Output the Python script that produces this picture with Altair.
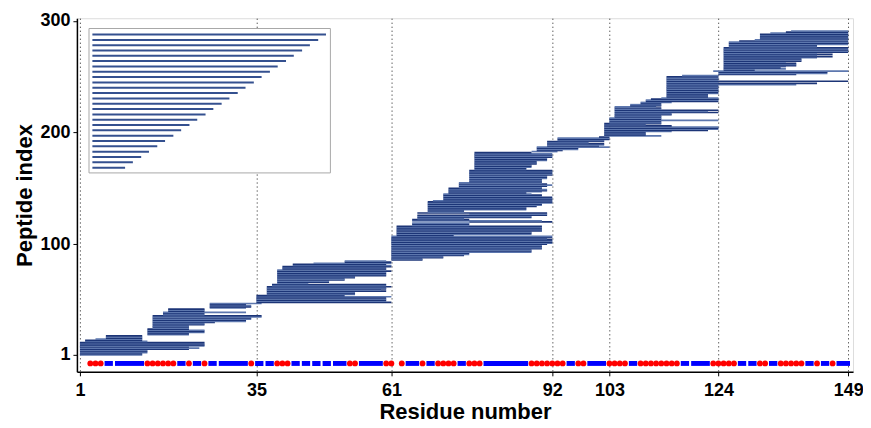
import altair as alt
import pandas as pd

# ---------------- data ----------------
pep_start = (
    [1] * 12 + [2, 2, 4, 6, 6, 6] + [14, 14, 14, 14, 14, 14, 15] + [15] * 11
    + [17, 17, 17, 18, 18, 18] + [26] * 5 + [35] * 7 + [37] * 8 + [38, 38]
    + [39] * 13 + [40, 40, 40, 42, 42, 46, 52, 52] + [61] * 22 + [62] * 9
    + [65, 65, 65, 76, 65, 65] + [66, 66, 66, 66, 76, 66] + [68] * 10 + [69]
    + [71] * 6 + [72] * 5 + [74] * 5 + [76] * 11 + [77] * 16
    + [88, 89, 89, 89, 89, 91, 91, 91, 91, 91, 93, 93, 93, 101]
    + [102] * 12 + [103] * 5 + [104] * 10 + [107, 107, 109, 109, 110, 110, 111, 113]
    + [114] * 19 + [117] + [124, 124, 124, 123] + [125] * 21 + [126] * 5
    + [128, 131, 132, 132, 132, 132, 132, 134, 137, 138]
)
pep_end = (
    [13, 13, 14, 14, 14, 22, 24, 22, 25, 25, 25, 25]
    + [14, 13, 13, 13, 13, 13]
    + [22, 22, 25, 25, 25, 22, 22]
    + [22, 22, 25, 25, 27, 33, 33, 34, 34, 36, 36]
    + [25, 25, 33, 25, 25, 25]
    + [33, 34, 34, 33, 36]
    + [61, 60, 60, 60, 60, 61, 52]
    + [54, 54, 54, 60, 59, 60, 60, 61]
    + [60, 60]
    + [45, 49, 49, 52, 52, 54, 54, 60, 60, 60, 60, 61, 60]
    + [60, 60, 61, 61, 60, 61, 61, 60]
    + [67, 67, 71, 71, 75, 76, 76, 88, 88, 88, 90, 90, 90, 90, 91, 92, 92, 92, 92, 91, 92, 92]
    + [73, 88, 88, 88, 90, 90, 90, 90, 90]
    + [76, 76, 76, 92, 90, 76]
    + [75, 88, 88, 91, 91, 91]
    + [75, 75, 87, 87, 87, 89, 90, 90, 92, 92, 92]
    + [92, 92, 92, 90, 90, 88]
    + [87, 90, 91, 91, 90]
    + [90, 91, 92, 91, 90]
    + [90, 90, 90, 91, 91, 91, 92, 92, 92, 92, 92]
    + [87, 87, 88, 88, 88, 89, 89, 89, 91, 91, 91, 92, 92, 92, 92, 88]
    + [93, 94, 97, 97, 103, 101, 102, 102, 99, 102, 102, 103, 103, 103]
    + [113, 110, 110, 110, 115, 122, 124, 124, 124, 115, 110, 113]
    + [113, 113, 124, 113, 113]
    + [113, 113, 115, 115, 124, 122, 124, 113, 113, 112]
    + [113, 113, 113, 115, 124, 124, 124, 124]
    + [122, 122, 122, 124, 124, 124, 124, 124, 124, 124, 124, 139, 143, 124, 149, 124, 124, 124, 124]
    + [124]
    + [139, 145, 145, 149]
    + [131, 137, 136, 137, 139, 139, 139, 137, 140, 140, 140, 143, 146, 143, 146, 143, 149, 149, 149, 149, 149]
    + [143, 143, 149, 149, 149]
    + [149] * 10
)

red_residues = [3, 4, 5, 14, 15, 16, 17, 18, 19, 22, 25, 34, 39, 40, 41, 53, 54, 60, 61, 63,
                67, 70, 71, 72, 73, 76, 77, 78, 88, 89, 90, 91, 92, 93, 94, 97, 98,
                103, 104, 105, 106, 109, 110, 111, 112, 113, 114, 115, 116,
                123, 124, 125, 126, 127, 132, 133, 136, 137, 138, 139, 140, 143, 146]
blue_run_start = [6, 8, 20, 23, 26, 28, 35, 37, 42, 44, 46, 48, 50, 55, 64, 68, 74, 79, 95,
                  99, 107, 117, 119, 128, 130, 134, 141, 144, 147]
blue_run_end = [7, 13, 21, 24, 27, 33, 36, 38, 43, 45, 47, 49, 52, 59, 66, 69, 75, 87, 96,
                102, 108, 118, 122, 129, 131, 135, 142, 145, 149]

# inset (schematic staircase)
inset_line_index = [287.8, 283.0, 278.3, 273.5, 268.7, 264.0, 259.2, 254.4, 249.7, 244.9,
                    240.1, 235.4, 230.6, 225.8, 221.1, 216.3, 211.5, 206.8, 202.0, 197.2,
                    192.5, 187.7, 182.9, 178.2, 173.4, 168.6]
inset_line_end = [48.4, 46.9, 45.3, 43.8, 42.2, 40.7, 39.1, 37.6, 36.0, 34.5, 32.9, 31.4,
                  29.8, 28.3, 26.7, 25.2, 23.6, 22.1, 20.5, 19.0, 17.4, 15.9, 14.3, 12.8,
                  11.2, 9.7]
inset_line_start = [3.4] * 26
inset_box = {"x1": [2.75], "x2": [49.25], "y1": [163.9], "y2": [293.2]}

x_ticks = [1, 35, 61, 92, 103, 124, 149]
y_ticks = [1, 100, 200, 300]

# ---------------- tables ----------------
pep = pd.DataFrame({"idx": list(range(1, len(pep_start) + 1)),
                    "start": pep_start, "end": pep_end})
red = pd.DataFrame({"res": red_residues})
blue = pd.DataFrame({"s": blue_run_start, "e": blue_run_end})
inset = pd.DataFrame({"i": inset_line_index, "s": inset_line_start, "e": inset_line_end})
box = pd.DataFrame(inset_box)

FONT = "Liberation Sans"
xscale = alt.Scale(domain=[0.42, 149.93], nice=False, zero=False)
yscale = alt.Scale(domain=[-14.2, 302.4], nice=False, zero=False)

xaxis = alt.Axis(values=x_ticks, grid=True, gridDash=[1, 3], gridColor="#000000",
                 gridOpacity=0.9, gridWidth=1, labelFont=FONT, labelFontWeight="bold",
                 labelFontSize=18, labelColor="black", tickColor="black", tickSize=4,
                 domainColor="black", domainWidth=1.5, labelPadding=6,
                 titleFont=FONT, titleFontWeight="bold", titleFontSize=22,
                 titleColor="black", titlePadding=2, labelFlush=False)
yaxis = alt.Axis(values=y_ticks, grid=False, labelFont=FONT, labelFontWeight="bold",
                 labelFontSize=18, labelColor="black", tickColor="black", tickSize=4,
                 domainColor="black", domainWidth=1.5, labelPadding=3,
                 titleFont=FONT, titleFontWeight="bold", titleFontSize=22,
                 titleColor="black", titlePadding=3)


def X(field):
    return alt.X(field, type="quantitative", scale=xscale, axis=xaxis, title="Residue number")


def Y(field):
    return alt.Y(field, type="quantitative", scale=yscale, axis=yaxis, title="Peptide index")


box_layer = alt.Chart(box).mark_rect(fill="white", stroke="#a8a8a8", strokeWidth=1).encode(
    x=X("x1"), x2="x2", y=Y("y1"), y2="y2")

inset_layer = alt.Chart(inset).mark_rule(color="#34508f", strokeWidth=2).encode(
    x=X("s"), x2="e", y=Y("i"))

pep_layer = alt.Chart(pep).transform_calculate(
    lo="datum.idx - 0.75", hi="datum.idx + 0.75",
    shade="datum.idx % 2 == 0 ? 'even' : 'odd'"
).mark_rect().encode(
    x=X("start"), x2="end", y=Y("lo"), y2="hi",
    color=alt.Color("shade:N", scale=alt.Scale(domain=["even", "odd"],
                                                range=["#1c3577", "#5d77ae"]),
                    legend=None),
)

blue_layer = alt.Chart(blue).transform_calculate(
    xs="datum.s - 0.25", xe="datum.e + 0.35", lo="-8.9", hi="-4.5"
).mark_rect(color="#0000ff").encode(
    x=X("xs"), x2="xe", y=Y("lo"), y2="hi")

red_layer = alt.Chart(red).transform_calculate(yy="-6.7").mark_circle(
    color="#ff0000", opacity=1, size=34).encode(x=X("res"), y=Y("yy"))

chart = alt.layer(box_layer, inset_layer, pep_layer, blue_layer, red_layer).properties(
    width=777, height=354,
    padding={"left": 69, "top": 10, "right": 10, "bottom": 52},
    autosize=alt.AutoSizeParams(type="none"),
).configure_view(stroke=None).configure(background="white")

chart.save("out.html", embed_options={"renderer": "svg", "actions": False})
